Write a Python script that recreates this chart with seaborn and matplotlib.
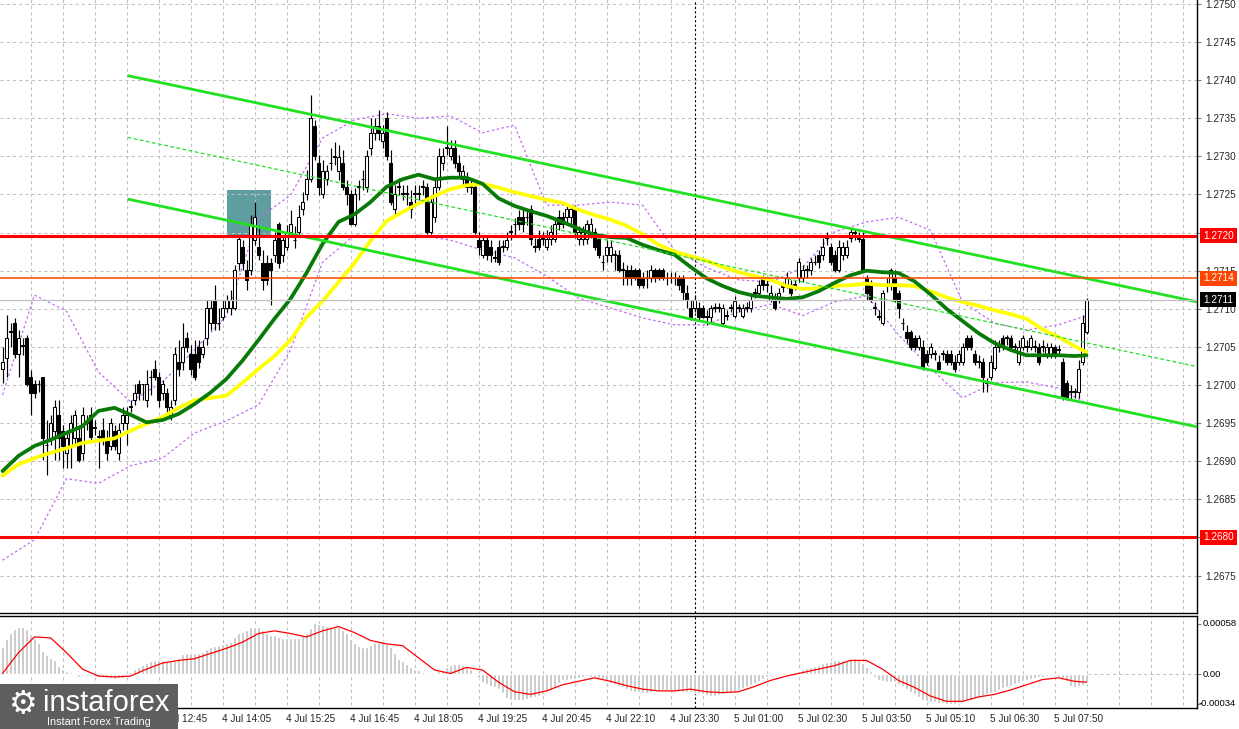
import numpy as np
import matplotlib
matplotlib.use("Agg")
import matplotlib.pyplot as plt
from matplotlib.patches import Rectangle
import seaborn as sns

sns.set_style("white")
plt.rcParams['font.family'] = ['Liberation Sans', 'DejaVu Sans']

# ---------------- data (M5 candles, bar index 0..271) ----------------
opens = [
 1.27021,1.27035,1.27070,1.27081,1.27041,1.27051,1.27062,1.27010,1.27001,1.27001,
 1.27010,1.26921,1.26930,1.26940,1.26961,1.26940,1.26911,1.26920,1.26930,1.26930,
 1.26911,1.26950,1.26961,1.26944,1.26932,1.26941,1.26930,1.26920,1.26940,1.26911,
 1.26950,1.26950,1.26971,1.26980,1.27001,1.27001,1.26980,1.27010,1.27021,1.27010,
 1.26990,1.26990,1.26961,1.26980,1.27030,1.27030,1.27062,1.27041,1.27041,1.27050,
 1.27041,1.27062,1.27081,1.27112,1.27081,1.27089,1.27101,1.27101,1.27101,1.27160,
 1.27181,1.27151,1.27151,1.27190,1.27181,1.27160,1.27160,1.27160,1.27171,1.27211,
 1.27171,1.27181,1.27201,1.27190,1.27201,1.27231,1.27251,1.27270,1.27340,1.27291,
 1.27251,1.27270,1.27291,1.27299,1.27281,1.27291,1.27260,1.27251,1.27211,1.27260,
 1.27270,1.27260,1.27311,1.27331,1.27340,1.27320,1.27350,1.27291,1.27231,1.27260,
 1.27251,1.27251,1.27240,1.27251,1.27251,1.27260,1.27260,1.27201,1.27220,1.27260,
 1.27291,1.27311,1.27301,1.27311,1.27291,1.27270,1.27270,1.27260,1.27260,1.27190,
 1.27171,1.27190,1.27181,1.27167,1.27181,1.27181,1.27181,1.27201,1.27211,1.27220,
 1.27220,1.27220,1.27231,1.27181,1.27192,1.27192,1.27181,1.27192,1.27192,1.27220,
 1.27220,1.27220,1.27220,1.27231,1.27192,1.27192,1.27192,1.27201,1.27201,1.27192,
 1.27161,1.27171,1.27171,1.27171,1.27171,1.27151,1.27151,1.27151,1.27151,1.27151,
 1.27140,1.27140,1.27140,1.27151,1.27151,1.27151,1.27140,1.27140,1.27140,1.27140,
 1.27140,1.27121,1.27101,1.27101,1.27101,1.27101,1.27089,1.27089,1.27101,1.27101,
 1.27081,1.27091,1.27101,1.27091,1.27101,1.27091,1.27101,1.27101,1.27121,1.27121,
 1.27140,1.27131,1.27112,1.27112,1.27112,1.27129,1.27131,1.27131,1.27131,1.27140,
 1.27140,1.27151,1.27151,1.27161,1.27171,1.27171,1.27193,1.27181,1.27171,1.27151,
 1.27171,1.27171,1.27193,1.27200,1.27192,1.27192,1.27140,1.27131,1.27101,1.27089,
 1.27081,1.27131,1.27131,1.27140,1.27121,1.27081,1.27070,1.27070,1.27062,1.27050,
 1.27050,1.27041,1.27041,1.27041,1.27030,1.27041,1.27041,1.27041,1.27030,1.27030,
 1.27030,1.27062,1.27062,1.27041,1.27030,1.27030,1.27003,1.27010,1.27022,1.27050,
 1.27062,1.27062,1.27062,1.27050,1.27030,1.27050,1.27050,1.27050,1.27050,1.27050,
 1.27050,1.27041,1.27041,1.27050,1.27046,1.27030,1.27003,1.26991,1.26991,1.26991,
 1.27030,1.27070]
highs = [
 1.27050,1.27092,1.27081,1.27088,1.27072,1.27062,1.27066,1.27020,1.27007,1.27007,
 1.27010,1.26954,1.26961,1.26980,1.26980,1.26948,1.26941,1.26961,1.26967,1.26948,
 1.26971,1.26961,1.26971,1.26954,1.26941,1.26957,1.26941,1.26957,1.26948,1.26950,
 1.26971,1.26971,1.26980,1.27001,1.27007,1.27001,1.27020,1.27020,1.27033,1.27017,
 1.27007,1.26996,1.26980,1.27050,1.27059,1.27081,1.27070,1.27053,1.27059,1.27059,
 1.27059,1.27112,1.27112,1.27131,1.27101,1.27112,1.27118,1.27125,1.27157,1.27197,
 1.27190,1.27164,1.27223,1.27240,1.27206,1.27177,1.27171,1.27167,1.27201,1.27214,
 1.27197,1.27210,1.27230,1.27209,1.27236,1.27253,1.27282,1.27381,1.27348,1.27302,
 1.27295,1.27289,1.27311,1.27319,1.27315,1.27308,1.27269,1.27256,1.27259,1.27269,
 1.27282,1.27308,1.27350,1.27350,1.27361,1.27341,1.27358,1.27308,1.27262,1.27272,
 1.27262,1.27262,1.27256,1.27262,1.27262,1.27269,1.27265,1.27249,1.27269,1.27311,
 1.27311,1.27340,1.27322,1.27322,1.27302,1.27289,1.27280,1.27269,1.27262,1.27201,
 1.27197,1.27197,1.27190,1.27177,1.27190,1.27190,1.27201,1.27210,1.27219,1.27230,
 1.27230,1.27230,1.27236,1.27193,1.27203,1.27201,1.27203,1.27210,1.27217,1.27230,
 1.27227,1.27236,1.27236,1.27236,1.27209,1.27209,1.27217,1.27219,1.27206,1.27197,
 1.27171,1.27190,1.27190,1.27177,1.27177,1.27161,1.27157,1.27157,1.27154,1.27154,
 1.27148,1.27151,1.27157,1.27154,1.27154,1.27154,1.27148,1.27148,1.27148,1.27144,
 1.27144,1.27131,1.27112,1.27118,1.27109,1.27105,1.27098,1.27105,1.27108,1.27108,
 1.27106,1.27098,1.27106,1.27117,1.27106,1.27106,1.27109,1.27119,1.27127,1.27138,
 1.27144,1.27138,1.27131,1.27121,1.27127,1.27135,1.27148,1.27138,1.27138,1.27167,
 1.27157,1.27157,1.27167,1.27171,1.27177,1.27193,1.27201,1.27186,1.27177,1.27190,
 1.27188,1.27190,1.27206,1.27203,1.27201,1.27201,1.27144,1.27138,1.27109,1.27098,
 1.27125,1.27140,1.27154,1.27151,1.27125,1.27088,1.27079,1.27072,1.27066,1.27066,
 1.27059,1.27046,1.27055,1.27046,1.27039,1.27046,1.27046,1.27046,1.27039,1.27046,
 1.27055,1.27066,1.27066,1.27046,1.27039,1.27035,1.27009,1.27039,1.27059,1.27059,
 1.27066,1.27066,1.27066,1.27055,1.27059,1.27066,1.27059,1.27066,1.27059,1.27055,
 1.27059,1.27055,1.27055,1.27053,1.27053,1.27035,1.27007,1.27000,1.26996,1.27033,
 1.27092,1.27114]
lows = [
 1.27003,1.27010,1.27050,1.27035,1.27010,1.27039,1.26999,1.26961,1.26983,1.26991,
 1.26902,1.26882,1.26921,1.26902,1.26902,1.26891,1.26891,1.26891,1.26921,1.26899,
 1.26902,1.26941,1.26928,1.26934,1.26891,1.26921,1.26902,1.26915,1.26915,1.26902,
 1.26941,1.26921,1.26965,1.26974,1.26980,1.26980,1.26971,1.26987,1.27007,1.26971,
 1.26980,1.26965,1.26954,1.26974,1.27012,1.27020,1.27043,1.27013,1.27007,1.27022,
 1.27035,1.27053,1.27072,1.27072,1.27072,1.27085,1.27096,1.27092,1.27098,1.27151,
 1.27151,1.27125,1.27144,1.27184,1.27164,1.27125,1.27131,1.27105,1.27161,1.27154,
 1.27161,1.27177,1.27196,1.27180,1.27196,1.27223,1.27243,1.27266,1.27295,1.27249,
 1.27245,1.27262,1.27282,1.27289,1.27269,1.27256,1.27236,1.27210,1.27209,1.27243,
 1.27256,1.27253,1.27302,1.27322,1.27322,1.27311,1.27295,1.27236,1.27223,1.27249,
 1.27243,1.27236,1.27219,1.27236,1.27243,1.27249,1.27198,1.27198,1.27214,1.27256,
 1.27282,1.27302,1.27295,1.27285,1.27272,1.27262,1.27253,1.27251,1.27198,1.27171,
 1.27167,1.27164,1.27161,1.27161,1.27157,1.27175,1.27177,1.27190,1.27197,1.27203,
 1.27201,1.27210,1.27184,1.27175,1.27177,1.27184,1.27177,1.27184,1.27188,1.27203,
 1.27206,1.27214,1.27210,1.27193,1.27184,1.27184,1.27185,1.27193,1.27177,1.27167,
 1.27151,1.27161,1.27161,1.27151,1.27148,1.27131,1.27131,1.27131,1.27138,1.27127,
 1.27127,1.27127,1.27135,1.27135,1.27138,1.27138,1.27131,1.27134,1.27131,1.27125,
 1.27112,1.27101,1.27085,1.27096,1.27085,1.27088,1.27079,1.27083,1.27096,1.27096,
 1.27079,1.27085,1.27096,1.27088,1.27096,1.27088,1.27096,1.27096,1.27114,1.27117,
 1.27125,1.27122,1.27109,1.27098,1.27108,1.27122,1.27127,1.27117,1.27125,1.27135,
 1.27135,1.27140,1.27144,1.27157,1.27154,1.27164,1.27184,1.27157,1.27148,1.27148,
 1.27164,1.27167,1.27188,1.27190,1.27188,1.27148,1.27112,1.27109,1.27092,1.27085,
 1.27079,1.27122,1.27125,1.27109,1.27088,1.27072,1.27055,1.27046,1.27046,1.27046,
 1.27020,1.27026,1.27035,1.27033,1.27020,1.27033,1.27026,1.27026,1.27017,1.27026,
 1.27026,1.27046,1.27046,1.27026,1.27022,1.26991,1.26991,1.27007,1.27020,1.27043,
 1.27046,1.27053,1.27046,1.27043,1.27026,1.27046,1.27043,1.27046,1.27043,1.27026,
 1.27043,1.27035,1.27035,1.27035,1.27039,1.26980,1.26980,1.26980,1.26983,1.26983,
 1.27026,1.27067]
closes = [
 1.27030,1.27062,1.27070,1.27041,1.27062,1.27051,1.27001,1.26990,1.26990,1.27001,
 1.26930,1.26921,1.26950,1.26971,1.26930,1.26920,1.26930,1.26950,1.26961,1.26902,
 1.26961,1.26950,1.26932,1.26944,1.26932,1.26930,1.26911,1.26950,1.26920,1.26941,
 1.26961,1.26961,1.26971,1.26990,1.26990,1.27001,1.27001,1.27010,1.27010,1.26980,
 1.27001,1.26971,1.26971,1.27041,1.27021,1.27050,1.27050,1.27021,1.27010,1.27030,
 1.27050,1.27101,1.27101,1.27081,1.27081,1.27101,1.27112,1.27112,1.27151,1.27192,
 1.27160,1.27138,1.27211,1.27220,1.27171,1.27138,1.27138,1.27151,1.27190,1.27160,
 1.27190,1.27201,1.27211,1.27190,1.27220,1.27240,1.27270,1.27350,1.27301,1.27260,
 1.27281,1.27281,1.27291,1.27299,1.27299,1.27260,1.27251,1.27211,1.27251,1.27260,
 1.27270,1.27301,1.27331,1.27340,1.27331,1.27331,1.27301,1.27240,1.27251,1.27260,
 1.27251,1.27251,1.27231,1.27251,1.27251,1.27260,1.27201,1.27240,1.27260,1.27301,
 1.27301,1.27311,1.27311,1.27291,1.27281,1.27281,1.27260,1.27260,1.27201,1.27181,
 1.27190,1.27171,1.27171,1.27167,1.27161,1.27181,1.27190,1.27201,1.27211,1.27211,
 1.27211,1.27220,1.27192,1.27181,1.27181,1.27192,1.27192,1.27201,1.27211,1.27211,
 1.27211,1.27231,1.27231,1.27201,1.27201,1.27201,1.27211,1.27211,1.27181,1.27171,
 1.27161,1.27181,1.27181,1.27171,1.27151,1.27151,1.27140,1.27140,1.27140,1.27131,
 1.27131,1.27140,1.27151,1.27140,1.27140,1.27140,1.27140,1.27140,1.27140,1.27131,
 1.27122,1.27112,1.27089,1.27112,1.27089,1.27089,1.27089,1.27101,1.27101,1.27101,
 1.27101,1.27091,1.27101,1.27110,1.27101,1.27101,1.27101,1.27112,1.27121,1.27131,
 1.27131,1.27131,1.27121,1.27101,1.27121,1.27129,1.27140,1.27121,1.27131,1.27161,
 1.27151,1.27151,1.27161,1.27161,1.27161,1.27181,1.27193,1.27161,1.27151,1.27181,
 1.27181,1.27181,1.27201,1.27200,1.27192,1.27151,1.27121,1.27112,1.27101,1.27089,
 1.27121,1.27131,1.27151,1.27112,1.27101,1.27081,1.27062,1.27050,1.27050,1.27062,
 1.27022,1.27030,1.27050,1.27041,1.27021,1.27041,1.27030,1.27030,1.27021,1.27041,
 1.27050,1.27050,1.27050,1.27030,1.27030,1.27010,1.27003,1.27030,1.27050,1.27050,
 1.27050,1.27062,1.27050,1.27050,1.27050,1.27062,1.27050,1.27062,1.27050,1.27030,
 1.27050,1.27050,1.27050,1.27041,1.27046,1.26983,1.26983,1.26991,1.26991,1.27021,
 1.27081,1.27112]

# moving averages, sampled every 4 bars (+ last bar)
ma_bars = list(range(0, 269, 4)) + [271]
ma_green = [
 1.26887,1.26907,1.26920,1.26928,1.26937,1.26946,1.26966,1.26970,1.26961,1.26951,
 1.26954,1.26962,1.26975,1.26990,1.27008,1.27032,1.27059,1.27087,1.27113,1.27147,
 1.27185,1.27214,1.27224,1.27240,1.27260,1.27270,1.27276,1.27270,1.27272,1.27272,
 1.27264,1.27245,1.27235,1.27228,1.27222,1.27214,1.27205,1.27197,1.27194,1.27193,
 1.27184,1.27177,1.27171,1.27155,1.27140,1.27130,1.27122,1.27117,1.27115,1.27113,
 1.27115,1.27123,1.27134,1.27144,1.27150,1.27148,1.27147,1.27136,1.27119,1.27100,
 1.27084,1.27068,1.27055,1.27046,1.27039,1.27039,1.27039,1.27038,1.27039]
ma_yellow = [
 1.26881,1.26896,1.26904,1.26911,1.26917,1.26924,1.26927,1.26930,1.26940,1.26949,
 1.26958,1.26970,1.26980,1.26983,1.26986,1.27003,1.27021,1.27038,1.27059,1.27089,
 1.27110,1.27135,1.27160,1.27189,1.27215,1.27227,1.27238,1.27248,1.27257,1.27262,
 1.27264,1.27259,1.27253,1.27248,1.27243,1.27239,1.27230,1.27223,1.27217,1.27209,
 1.27198,1.27184,1.27175,1.27169,1.27163,1.27155,1.27148,1.27143,1.27138,1.27130,
 1.27126,1.27127,1.27130,1.27131,1.27133,1.27131,1.27131,1.27130,1.27123,1.27115,
 1.27109,1.27104,1.27098,1.27093,1.27087,1.27073,1.27063,1.27051,1.27043]

# Bollinger bands, sampled every 8 bars (+ last bar)
bb_bars = list(range(0, 265, 8)) + [271]
bb_upper = [
 1.26987,1.27118,1.27097,1.27017,1.26978,1.27004,1.27046,1.27091,1.27219,1.27249,
 1.27324,1.27348,1.27356,1.27350,1.27353,1.27331,1.27341,1.27236,1.27236,1.27240,
 1.27236,1.27177,1.27154,1.27138,1.27135,1.27154,1.27201,1.27214,1.27220,1.27203,
 1.27109,1.27081,1.27072,1.27079,1.27091]
bb_lower = [
 1.26770,1.26797,1.26877,1.26871,1.26894,1.26904,1.26937,1.26953,1.26974,1.27046,
 1.27161,1.27197,1.27193,1.27197,1.27190,1.27177,1.27167,1.27143,1.27114,1.27101,
 1.27088,1.27079,1.27079,1.27096,1.27106,1.27091,1.27109,1.27117,1.27066,1.27022,
 1.26983,1.27003,1.27004,1.26996,1.26976]

# MACD histogram (units of 1e-5), one value per bar
macd_hist_e5 = [
 31,41,48,52,55,55,52,46,42,36, 27,22,19,17,10,6,4,3,0,-3,
 -2,-2,-2,-2,-3,-3,-4,-4,-5,-4, -4,-1,3,6,8,11,13,15,16,16,
 16,15,15,17,19,23,24,25,25,25, 26,29,31,33,34,35,36,37,43,48,
 49,51,54,55,54,51,48,45,45,43, 42,42,42,42,42,45,47,53,59,58,
 57,56,55,55,54,51,47,41,36,33, 32,32,34,36,37,38,35,31,25,18,
 15,12,9,6,5,3,0,0,1,4, 5,9,11,12,12,11,10,6,1,-4,
 -9,-11,-13,-15,-17,-22,-27,-29,-30,-30, -29,-28,-27,-26,-25,-23,-20,-18,-14,-10,
 -7,-6,-5,-5,-4,-3,-2,-3,-3,-4, -5,-8,-10,-11,-13,-14,-17,-19,-20,-20,
 -21,-21,-20,-19,-19,-18,-18,-18,-19,-19, -20,-20,-20,-21,-22,-23,-24,-25,-25,-24,
 -23,-22,-21,-19,-18,-16,-14,-12,-10,-8, -5,-3,-2,-1,-1,0,1,1,3,4,
 6,7,8,10,11,13,14,15,16,16, 17,17,18,19,17,13,9,4,-3,-6,
 -8,-9,-9,-9,-11,-13,-17,-20,-23,-26, -29,-31,-32,-32,-33,-33,-34,-34,-34,-33,
 -32,-30,-29,-27,-26,-25,-23,-22,-20,-18, -16,-14,-13,-11,-10,-8,-7,-5,-4,-3,
 -3,-2,-2,-2,-3,-5,-8,-13,-15,-13, -12,-10]
# MACD signal line (units of 1e-5), sampled with the MAs
macd_signal_e5 = [
 1,25,43,42,25,6,-2,-3,-2,6, 13,16,18,24,30,37,47,50,47,43,
 50,55,48,39,35,33,19,5,1,8, 5,-9,-20,-23,-19,-12,-8,-4,-8,-13,
 -17,-19,-19,-17,-20,-21,-20,-14,-7,-2, 2,6,10,16,16,6,-7,-15,-25,-31,
 -31,-26,-23,-18,-12,-6,-4,-8,-9]

# trend channel (bar, price) endpoints
chan_x = [31.25, 298.75]
chan_upper = [1.27406, 1.27109]
chan_mid = [1.27325, 1.27024]
chan_lower = [1.27244, 1.26945]

# horizontal levels and labels
level_red = [1.27196, 1.26800]
level_red_text = ["1.2720", "1.2680"]
level_orange = 1.27140
level_orange_text = "1.2714"
bid_price = 1.27112
bid_text = "1.2711"
zone_bars = (56.0, 67.0)
zone_prices = (1.27196, 1.27256)

price_ticks = [1.2675, 1.2680, 1.2685, 1.2690, 1.2695, 1.2700, 1.2705, 1.2710,
               1.2715, 1.2720, 1.2725, 1.2730, 1.2735, 1.2740, 1.2745, 1.2750]
hidden_tick_labels = ["1.2720", "1.2680"]   # fully covered by the level boxes
macd_ticks = [0.00058, 0.0, -0.00034]
macd_tick_text = ["0.00058", "0.00", "-0.00034"]

date_bars = [39, 55, 71, 87, 103, 119, 135, 151, 167, 183, 199, 215, 231, 247, 263]
date_labels = ["4 Jul 12:45", "4 Jul 14:05", "4 Jul 15:25", "4 Jul 16:45", "4 Jul 18:05",
               "4 Jul 19:25", "4 Jul 20:45", "4 Jul 22:10", "4 Jul 23:30", "5 Jul 01:00",
               "5 Jul 02:30", "5 Jul 03:50", "5 Jul 05:10", "5 Jul 06:30", "5 Jul 07:50"]
day_separator_bar = 173

# ---------------- figure ----------------
W, H = 1239, 729
fig = plt.figure(figsize=(W / 100, H / 100), dpi=100)
fig.patch.set_facecolor('white')

def frame(x0, y0, x1, y1):
    return [x0 / W, 1 - y1 / H, (x1 - x0) / W, (y1 - y0) / H]

ax = fig.add_axes(frame(0, 0, 1197, 613))
ax2 = fig.add_axes(frame(0, 616, 1197, 708))

XMIN, XMAX = -0.625, 298.625
GRID = '#C0C0C0'
DASH = (0, (3, 3))
FONT = 'Liberation Sans'
FS = 7.2

# ---- main panel ----
ax.set_xlim(XMIN, XMAX)
ax.set_ylim(1.267008, 1.275052)
ax.set_facecolor('white')

ax.add_patch(Rectangle((zone_bars[0], zone_prices[0]), zone_bars[1] - zone_bars[0],
                       zone_prices[1] - zone_prices[0], facecolor='#5F9EA0',
                       edgecolor='none', zorder=0.5))

grid_bars = np.arange(7, 299, 8)
ax.vlines(grid_bars, 1.266, 1.276, colors=GRID, linestyles=DASH, lw=0.75, zorder=1)
ax.hlines(price_ticks, XMIN, XMAX, colors=GRID, linestyles=DASH, lw=0.75, zorder=1)
ax.axvline(day_separator_bar, color='black', ls=(0, (2, 2)), lw=0.8, zorder=1.5)

# Bollinger bands
sns.lineplot(x=bb_bars, y=bb_upper, ax=ax, color='#C36CF0', lw=0.9,
             linestyle=(0, (2, 2)), zorder=2, legend=False)
sns.lineplot(x=bb_bars, y=bb_lower, ax=ax, color='#C36CF0', lw=0.9,
             linestyle=(0, (2, 2)), zorder=2, legend=False)

# candles
o = np.array(opens); h = np.array(highs); l = np.array(lows); c = np.array(closes)
idx = np.arange(len(o))
ax.vlines(idx, l, h, colors='black', lw=0.85, zorder=3)
bull = c >= o
body_lo = np.minimum(o, c)
body_h = np.maximum(np.abs(c - o), 0.000009)
ax.bar(idx[bull], body_h[bull], bottom=body_lo[bull], width=0.72,
       facecolor='white', edgecolor='black', lw=0.75, zorder=3.2)
ax.bar(idx[~bull], body_h[~bull], bottom=body_lo[~bull], width=0.72,
       facecolor='black', edgecolor='black', lw=0.75, zorder=3.2)

# moving averages
sns.lineplot(x=ma_bars, y=ma_yellow, ax=ax, color='#FFFF00', lw=2.7, zorder=4,
             legend=False)
sns.lineplot(x=ma_bars, y=ma_green, ax=ax, color='#087A08', lw=2.7, zorder=4.1,
             legend=False)

# channel
ax.plot(chan_x, chan_upper, color='#22E022', lw=2.0, zorder=5, solid_capstyle='butt')
ax.plot(chan_x, chan_lower, color='#22E022', lw=2.0, zorder=5, solid_capstyle='butt')
ax.plot(chan_x, chan_mid, color='#22E022', lw=0.9, ls=(0, (3, 2)), zorder=5)

# horizontal levels
for p in level_red:
    ax.axhline(p, color='#FF0000', lw=2.2, zorder=5.5)
ax.axhline(level_orange, color='#FF4500', lw=1.1, zorder=5.5)
ax.axhline(bid_price, color='#C0C0C0', lw=0.9, zorder=5.4)

# axes styling
for s in ['left', 'top']:
    ax.spines[s].set_visible(False)
ax.spines['right'].set_color('black'); ax.spines['right'].set_lw(1.0)
ax.spines['bottom'].set_color('black'); ax.spines['bottom'].set_lw(1.0)
ax.set_xticks([])
ax.yaxis.tick_right()
ax.set_yticks(price_ticks)
ax.set_yticklabels(["" if f"{v:.4f}" in hidden_tick_labels else f"{v:.4f}"
                    for v in price_ticks], fontsize=FS, family=FONT)
ax.tick_params(axis='y', direction='out', length=3, width=0.8, color='#808080',
               pad=3, right=True, left=False)

trans = ax.get_yaxis_transform()
xlab = 1203 / 1197
box = dict(boxstyle='square,pad=0.28', ec='none')
for p, t in zip(level_red, level_red_text):
    ax.text(xlab, p, t, transform=trans, ha='left', va='center', fontsize=FS,
            family=FONT, color='white', zorder=10, clip_on=False,
            bbox=dict(box, fc='#FF0000'))
ax.text(xlab, level_orange, level_orange_text, transform=trans, ha='left', va='center',
        fontsize=FS, family=FONT, color='white', zorder=10, clip_on=False,
        bbox=dict(box, fc='#FF4500'))
ax.text(xlab, bid_price, bid_text, transform=trans, ha='left', va='center',
        fontsize=FS, family=FONT, color='white', zorder=10, clip_on=False,
        bbox=dict(box, fc='black'))

# ---- MACD panel ----
ax2.set_xlim(XMIN, XMAX)
ax2.set_ylim(-0.000387, 0.000671)
ax2.vlines(grid_bars, -0.001, 0.001, colors=GRID, linestyles=DASH, lw=0.75, zorder=1)
ax2.axhline(0, color=GRID, ls=DASH, lw=0.75, zorder=1)
ax2.axvline(day_separator_bar, color='black', ls=(0, (2, 2)), lw=0.8, zorder=1.5)
hist = np.array(macd_hist_e5) * 1e-5
ax2.bar(np.arange(len(hist)), hist, width=0.72, color='#C0C0C0', zorder=2)
sig = np.array(macd_signal_e5) * 1e-5
sns.lineplot(x=ma_bars, y=sig, ax=ax2, color='#FF0000', lw=0.9, zorder=3, legend=False)

ax2.spines['left'].set_visible(False)
for s in ['top', 'right', 'bottom']:
    ax2.spines[s].set_color('black'); ax2.spines[s].set_lw(1.0)
ax2.yaxis.tick_right()
ax2.set_yticks(macd_ticks)
ax2.set_yticklabels([])
ax2.tick_params(axis='y', direction='out', length=3, width=0.8, color='#808080',
                right=True, left=False)
trans2 = ax2.get_yaxis_transform()
for v, t in zip(macd_ticks, macd_tick_text):
    x0 = (1199 if t.startswith('-') else 1203) / 1197
    ax2.text(x0, v, t, transform=trans2, ha='left', va='center', fontsize=6.8,
             family=FONT, color='black', clip_on=False)
ax2.set_xticks(date_bars)
ax2.set_xticklabels(date_labels, fontsize=FS, family=FONT)
for t in ax2.get_xticklabels():
    t.set_ha('left')
ax2.tick_params(axis='x', direction='out', length=3, width=0.8, pad=1.5)
ax.set_xlabel(''); ax.set_ylabel(''); ax2.set_xlabel(''); ax2.set_ylabel('')

# ---- logo ----
lg = fig.add_axes(frame(0, 684, 178, 729), zorder=20)
lg.set_facecolor('#5E5E5E')
lg.set_xticks([]); lg.set_yticks([])
for s in lg.spines.values():
    s.set_visible(False)
lg.set_xlim(0, 178); lg.set_ylim(45, 0)
lg.text(23, 21, '\u2699', fontsize=23, color='white', ha='center', va='center',
        family='DejaVu Sans')
lg.text(43, 27, 'instaforex', fontsize=21, color='white', ha='left', va='baseline',
        family=FONT)
lg.text(47, 41, 'Instant Forex Trading', fontsize=7.8, color='white', ha='left',
        va='baseline', family=FONT)

fig.savefig('out.png', dpi=100, facecolor='white')
